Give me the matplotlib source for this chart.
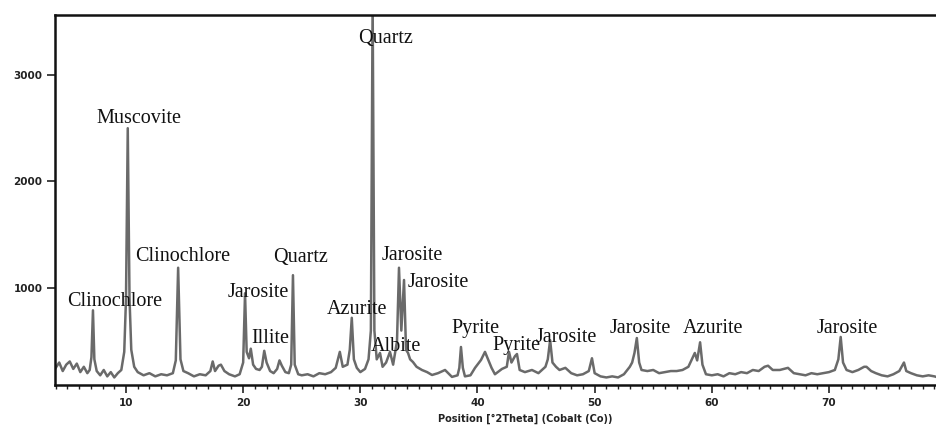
import matplotlib
matplotlib.use("Agg")
import matplotlib.pyplot as plt
from matplotlib.ticker import MultipleLocator

# (2-theta deg, counts)
pattern = [
    (4.0, 250), (4.3, 300), (4.6, 220), (4.9, 280), (5.2, 310), (5.5, 240),
    (5.8, 290), (6.1, 210), (6.4, 260), (6.7, 200), (6.9, 230), (7.05, 350),
    (7.18, 790), (7.3, 330), (7.5, 220), (7.8, 180), (8.1, 230), (8.4, 170),
    (8.7, 210), (9.0, 160), (9.3, 200), (9.6, 230), (9.85, 400), (10.0, 900),
    (10.15, 2500), (10.3, 900), (10.45, 420), (10.7, 260), (11.0, 210),
    (11.5, 180), (12.0, 200), (12.5, 170), (13.0, 190), (13.5, 180),
    (14.0, 200), (14.25, 320), (14.45, 1190), (14.65, 330), (14.9, 220),
    (15.3, 200), (15.8, 170), (16.3, 190), (16.8, 180), (17.2, 220),
    (17.4, 310), (17.6, 220), (17.9, 270), (18.1, 280), (18.4, 220),
    (18.8, 190), (19.3, 170), (19.7, 190), (20.0, 300), (20.16, 950),
    (20.3, 400), (20.5, 340), (20.65, 430), (20.85, 280), (21.1, 240),
    (21.4, 230), (21.6, 260), (21.8, 410), (22.0, 300), (22.3, 220),
    (22.6, 200), (22.9, 240), (23.1, 320), (23.3, 270), (23.6, 210),
    (23.9, 200), (24.1, 280), (24.25, 1120), (24.4, 280), (24.7, 190),
    (25.0, 180), (25.5, 190), (26.0, 170), (26.5, 200), (27.0, 190),
    (27.5, 210), (27.9, 250), (28.25, 400), (28.5, 260), (28.9, 280),
    (29.1, 420), (29.27, 720), (29.45, 330), (29.7, 250), (30.0, 210),
    (30.4, 240), (30.7, 330), (30.9, 600), (31.05, 3700), (31.2, 600),
    (31.4, 330), (31.68, 390), (31.9, 260), (32.2, 300), (32.53, 400),
    (32.8, 280), (33.13, 500), (33.3, 1190), (33.5, 600), (33.73, 1075),
    (33.9, 420), (34.07, 390), (34.25, 330), (34.49, 305), (34.8, 260),
    (35.26, 230), (35.7, 210), (36.12, 183), (36.63, 200), (37.23, 230),
    (37.82, 165), (38.3, 180), (38.45, 250), (38.59, 446), (38.75, 250),
    (38.93, 170), (39.4, 180), (39.79, 250), (40.3, 324), (40.64, 400),
    (40.9, 330), (41.2, 250), (41.49, 190), (42.09, 240), (42.5, 260),
    (42.69, 400), (42.9, 300), (43.2, 360), (43.37, 380), (43.6, 230),
    (44.05, 210), (44.65, 230), (45.2, 200), (45.8, 260), (46.0, 330),
    (46.2, 510), (46.4, 300), (46.7, 260), (47.0, 230), (47.5, 250),
    (48.0, 200), (48.5, 180), (49.0, 190), (49.5, 220), (49.77, 340),
    (50.0, 200), (50.5, 170), (51.0, 160), (51.5, 170), (52.0, 160),
    (52.5, 190), (53.0, 260), (53.2, 300), (53.4, 390), (53.6, 530),
    (53.8, 300), (54.0, 230), (54.5, 220), (55.0, 230), (55.5, 200),
    (56.0, 210), (56.5, 220), (57.0, 220), (57.5, 230), (58.0, 260),
    (58.3, 330), (58.55, 390), (58.75, 320), (59.0, 490), (59.2, 280),
    (59.5, 190), (60.0, 180), (60.5, 190), (61.0, 170), (61.5, 200),
    (62.0, 190), (62.5, 210), (63.0, 200), (63.5, 230), (64.0, 220),
    (64.5, 260), (64.8, 270), (65.2, 230), (65.8, 230), (66.5, 250),
    (67.0, 200), (67.5, 190), (68.0, 180), (68.5, 200), (69.0, 190),
    (69.5, 200), (70.0, 210), (70.5, 230), (70.8, 330), (71.0, 540),
    (71.2, 300), (71.5, 230), (72.0, 210), (72.5, 230), (73.0, 260),
    (73.2, 260), (73.6, 220), (74.0, 200), (74.5, 180), (75.0, 170),
    (75.5, 190), (76.0, 220), (76.2, 260), (76.4, 300), (76.6, 220),
    (77.0, 200), (77.5, 180), (78.0, 170), (78.5, 180), (79.0, 170),
    (79.3, 160),
]
two_theta = [p[0] for p in pattern]
counts = [p[1] for p in pattern]

# Phase labels: text, 2-theta of label centre, baseline count
label_names = ["Clinochlore", "Muscovite", "Clinochlore", "Jarosite", "Illite",
               "Quartz", "Azurite", "Quartz", "Jarosite", "Jarosite", "Albite",
               "Pyrite", "Pyrite", "Jarosite", "Jarosite", "Azurite", "Jarosite"]
label_x = [9.02, 11.07, 14.86, 21.31, 22.29, 24.94, 29.71, 32.19, 34.41, 36.63,
           33.04, 39.79, 43.33, 47.6, 53.87, 60.1, 71.58]
label_y = [831, 2545, 1254, 918, 481, 1244, 753, 3303, 1263, 1012, 411, 577,
           418, 496, 574, 578, 578]

x_ticks = [10, 20, 30, 40, 50, 60, 70]
y_ticks = [1000, 2000, 3000]

fig = plt.figure(figsize=(9.37, 4.26), dpi=100)
ax = fig.add_axes([55 / 937, 41 / 426, 882 / 937, 370 / 426])

ax.plot(two_theta, counts, color="#6a6a6a", linewidth=1.8)

for name, lx, ly in zip(label_names, label_x, label_y):
    ax.text(lx, ly, name, ha="center", va="baseline",
            fontsize=14.5, family="Liberation Serif", color="#111111")

ax.set_xlim(3.94, 79.22)
ax.set_ylim(89, 3563)
ax.set_xticks(x_ticks)
ax.set_yticks(y_ticks)
ax.xaxis.set_minor_locator(MultipleLocator(1))
ax.tick_params(axis="both", which="major", direction="out", length=6,
               width=1.2, labelsize=7.5, pad=3, colors="#222222")
ax.tick_params(axis="x", which="minor", direction="out", length=3, width=1.0,
               colors="#222222")
for lab in ax.get_xticklabels() + ax.get_yticklabels():
    lab.set_fontweight("bold")

for side in ["left", "top", "bottom"]:
    ax.spines[side].set_linewidth(1.8)
    ax.spines[side].set_color("#111111")
ax.spines["right"].set_visible(False)

ax.set_xlabel("Position [°2Theta] (Cobalt (Co))", fontsize=7, fontweight="bold",
              color="#222222")
ax.xaxis.set_label_coords(470 / 882, -0.078)

fig.savefig("out.png", dpi=100)
